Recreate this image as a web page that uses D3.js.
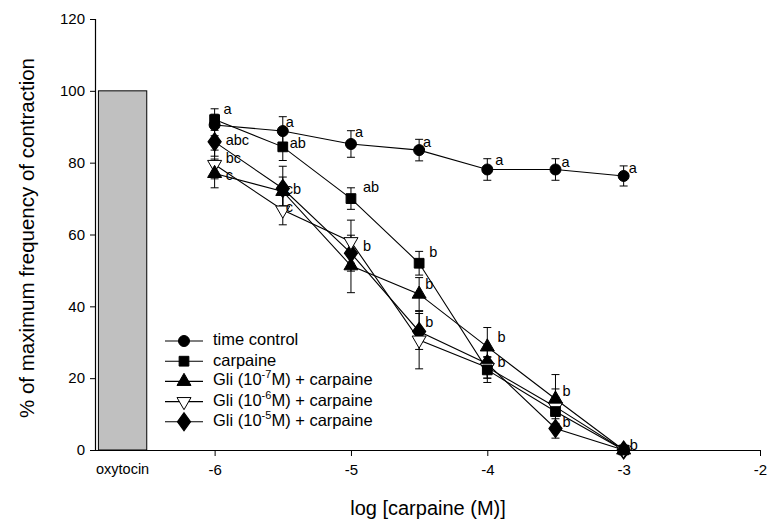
<!DOCTYPE html>
<html>
<head>
<meta charset="utf-8">
<script src="https://cdn.jsdelivr.net/npm/d3@7/dist/d3.min.js"></script>
<style>
  body { margin: 0; background: #fff; }
  svg { display: block; }
  text { font-family: "Liberation Sans", Arial, sans-serif; fill: #000; }
</style>
</head>
<body>
<svg id="chart" width="769" height="524"></svg>
<script>
// ---------------- data ----------------
const logConc = [-6, -5.5, -5, -4.5, -4, -3.5, -3];

const seriesNames = ["time control", "carpaine", "Gli (10^-7M) + carpaine", "Gli (10^-6M) + carpaine", "Gli (10^-5M) + carpaine"];
const seriesSymbols = ["circle", "square", "triangle", "triangleDown", "diamond"];

const timeControl = [90.5, 88.8, 85.2, 83.5, 78.1, 78.1, 76.3];
const timeControlErr = [3.0, 4.0, 3.7, 3.0, 3.0, 3.0, 2.8];
const carpaine = [92.0, 84.4, 70.0, 52.0, 22.3, 10.7, 0];
const carpaineErr = [3.0, 3.8, 3.0, 3.3, 3.5, 4.0, 0];
const gli7 = [77.0, 72.0, 51.3, 43.4, 28.7, 14.2, 0];
const gli7Err = [4.0, 4.0, 7.5, 4.6, 5.4, 6.8, 0];
const gli6 = [79.5, 66.8, 58.0, 30.6, 23.0, 12.0, 0];
const gli6Err = [4.0, 4.1, 6.0, 8.0, 3.0, 5.0, 0];
const gli5 = [85.8, 72.8, 54.8, 33.0, 24.0, 6.0, 0];
const gli5Err = [4.0, 6.2, 5.0, 5.0, 4.0, 2.7, 0];

const barCategory = ["oxytocin"];
const barValue = [100];

const yTicks = [0, 20, 40, 60, 80, 100, 120];
const xTicks = [-6, -5, -4, -3, -2];

// significance letters (position in data units)
const annText = ["a", "abc", "bc", "c",
                 "a", "ab", "cb", "c",
                 "a", "ab", "b",
                 "a", "b", "b", "b",
                 "a", "b", "b",
                 "a", "b", "b",
                 "a", "b"];
const annX = [-5.934, -5.919, -5.919, -5.919,
              -5.478, -5.449, -5.478, -5.478,
              -4.971, -4.912, -4.912,
              -4.471, -4.426, -4.456, -4.456,
              -3.941, -3.926, -3.926,
              -3.456, -3.449, -3.449,
              -2.963, -2.956];
const annY = [94.6, 86.0, 81.0, 76.3,
              91.0, 85.2, 72.4, 67.4,
              88.3, 72.9, 56.5,
              85.5, 54.8, 45.9, 35.4,
              80.5, 31.2, 24.2,
              79.9, 16.2, 7.5,
              78.2, 1.2];

// ---------------- chart ----------------
const svg = d3.select("#chart");
const x = d3.scaleLinear().domain([-6.87, -2]).range([96, 760]);
const y = d3.scaleLinear().domain([0, 120]).range([450, 19]);
const xBar = d3.scaleBand().domain(barCategory).range([x(-6.87), x(-6.48)]).paddingInner(0).paddingOuter(0.05);

// bar
svg.selectAll("rect.bar").data(barValue).enter().append("rect")
  .attr("class", "bar")
  .attr("x", (d, i) => xBar(barCategory[i]))
  .attr("width", xBar.bandwidth())
  .attr("y", d => y(d))
  .attr("height", d => y(0) - y(d))
  .attr("fill", "#c0c0c0")
  .attr("stroke", "#000")
  .attr("stroke-width", 1);

svg.selectAll("text.barlab").data(barCategory).enter().append("text")
  .attr("x", d => xBar(d) + xBar.bandwidth() / 2)
  .attr("y", 470)
  .attr("text-anchor", "middle")
  .attr("dominant-baseline", "middle")
  .style("font-size", "14.5px")
  .text(d => d);

// axes
const yAxis = d3.axisLeft(y).tickValues(yTicks).tickSize(6).tickPadding(5).tickFormat(d => String(d));
const gy = svg.append("g").attr("transform", `translate(${x(-6.87)},0)`).call(yAxis);
const xAxis = d3.axisBottom(x).tickValues(xTicks).tickSize(6).tickPadding(8).tickFormat(d => String(d));
const gx = svg.append("g").attr("transform", `translate(0,${y(0)})`).call(xAxis);
[gx, gy].forEach(g => {
  g.select(".domain").attr("stroke", "#000").attr("stroke-width", 1.2);
  g.selectAll(".tick line").attr("stroke", "#000");
  g.selectAll(".tick text").style("font-size", "15px").style("font-family", '"Liberation Sans", Arial, sans-serif');
});
gx.select(".domain").attr("d", `M${x(-6.87)},0.5H${x(-2)}`);
gy.select(".domain").attr("d", `M-0.5,${y(0)}V${y(120)}`);

// axis titles
svg.append("text")
  .attr("x", 428).attr("y", 510)
  .attr("text-anchor", "middle").attr("dominant-baseline", "middle")
  .style("font-size", "20px")
  .text("log [carpaine (M)]");
svg.append("text")
  .attr("transform", "translate(29,238) rotate(-90)")
  .attr("text-anchor", "middle").attr("dominant-baseline", "middle")
  .style("font-size", "20.5px")
  .text("% of maximum frequency of contraction");

// series
const allVals = [timeControl, carpaine, gli7, gli6, gli5];
const allErrs = [timeControlErr, carpaineErr, gli7Err, gli6Err, gli5Err];

const symGen = {
  circle: d3.symbol().type(d3.symbolCircle).size(95),
  square: d3.symbol().type(d3.symbolSquare).size(95),
  triangle: d3.symbol().type(d3.symbolTriangle).size(85),
  triangleDown: d3.symbol().type(d3.symbolTriangle).size(85),
  diamond: d3.symbol().type(d3.symbolDiamond).size(95)
};
function drawSymbol(g, sym, cx, cy) {
  const p = g.append("path")
    .attr("d", symGen[sym]())
    .attr("stroke", "#000")
    .attr("stroke-width", 1)
    .attr("fill", sym === "triangleDown" ? "#fff" : "#000");
  let t = `translate(${cx},${cy})`;
  if (sym === "triangleDown") t += " rotate(180)";
  if (sym === "diamond") t += " scale(1.25,1)";
  p.attr("transform", t);
  return p;
}

const line = d3.line().x(d => x(d[0])).y(d => y(d[1]));
const gLines = svg.append("g");
const gErr = svg.append("g");
const gPts = svg.append("g");

allVals.forEach((vals, si) => {
  const pts = logConc.map((c, i) => [c, vals[i], allErrs[si][i]]);
  gLines.append("path").datum(pts)
    .attr("d", line)
    .attr("fill", "none").attr("stroke", "#000").attr("stroke-width", 1.1);
  pts.forEach(p => {
    if (p[2] > 0) {
      const cx = x(p[0]), y1 = y(p[1] + p[2]), y2 = y(p[1] - p[2]);
      gErr.append("line").attr("x1", cx).attr("x2", cx).attr("y1", y1).attr("y2", y2).attr("stroke", "#000");
      [y1, y2].forEach(yy => gErr.append("line").attr("x1", cx - 4).attr("x2", cx + 4).attr("y1", yy).attr("y2", yy).attr("stroke", "#000"));
    }
  });
});
// markers drawn in reverse series order so time control / carpaine end on top
[4, 3, 2, 1, 0].forEach(si => {
  logConc.forEach((c, i) => drawSymbol(gPts, seriesSymbols[si], x(c), y(allVals[si][i])));
});

// annotations
svg.append("g").selectAll("text").data(annText).enter().append("text")
  .attr("x", (d, i) => x(annX[i]))
  .attr("y", (d, i) => y(annY[i]))
  .attr("dominant-baseline", "middle")
  .style("font-size", "14.5px")
  .text(d => d);

// legend
const legend = svg.append("g").attr("transform", "translate(165,341)");
seriesNames.forEach((name, i) => {
  const row = legend.append("g").attr("transform", `translate(0,${i * 20.2})`);
  row.append("line").attr("x1", 0).attr("x2", 38).attr("y1", 0).attr("y2", 0).attr("stroke", "#000").attr("stroke-width", 1.1);
  drawSymbol(row, seriesSymbols[i], 19, 0);
  const t = row.append("text").attr("x", 48).attr("y", 0).attr("dominant-baseline", "middle").style("font-size", "16.5px");
  const m = name.match(/^(.*\(10)\^(-\d)(M\).*)$/);
  if (m) {
    t.append("tspan").text(m[1]);
    t.append("tspan").attr("dy", -6).style("font-size", "11px").text(m[2]);
    t.append("tspan").attr("dy", 6).text(m[3]);
  } else {
    t.text(name);
  }
});
</script>
</body>
</html>
